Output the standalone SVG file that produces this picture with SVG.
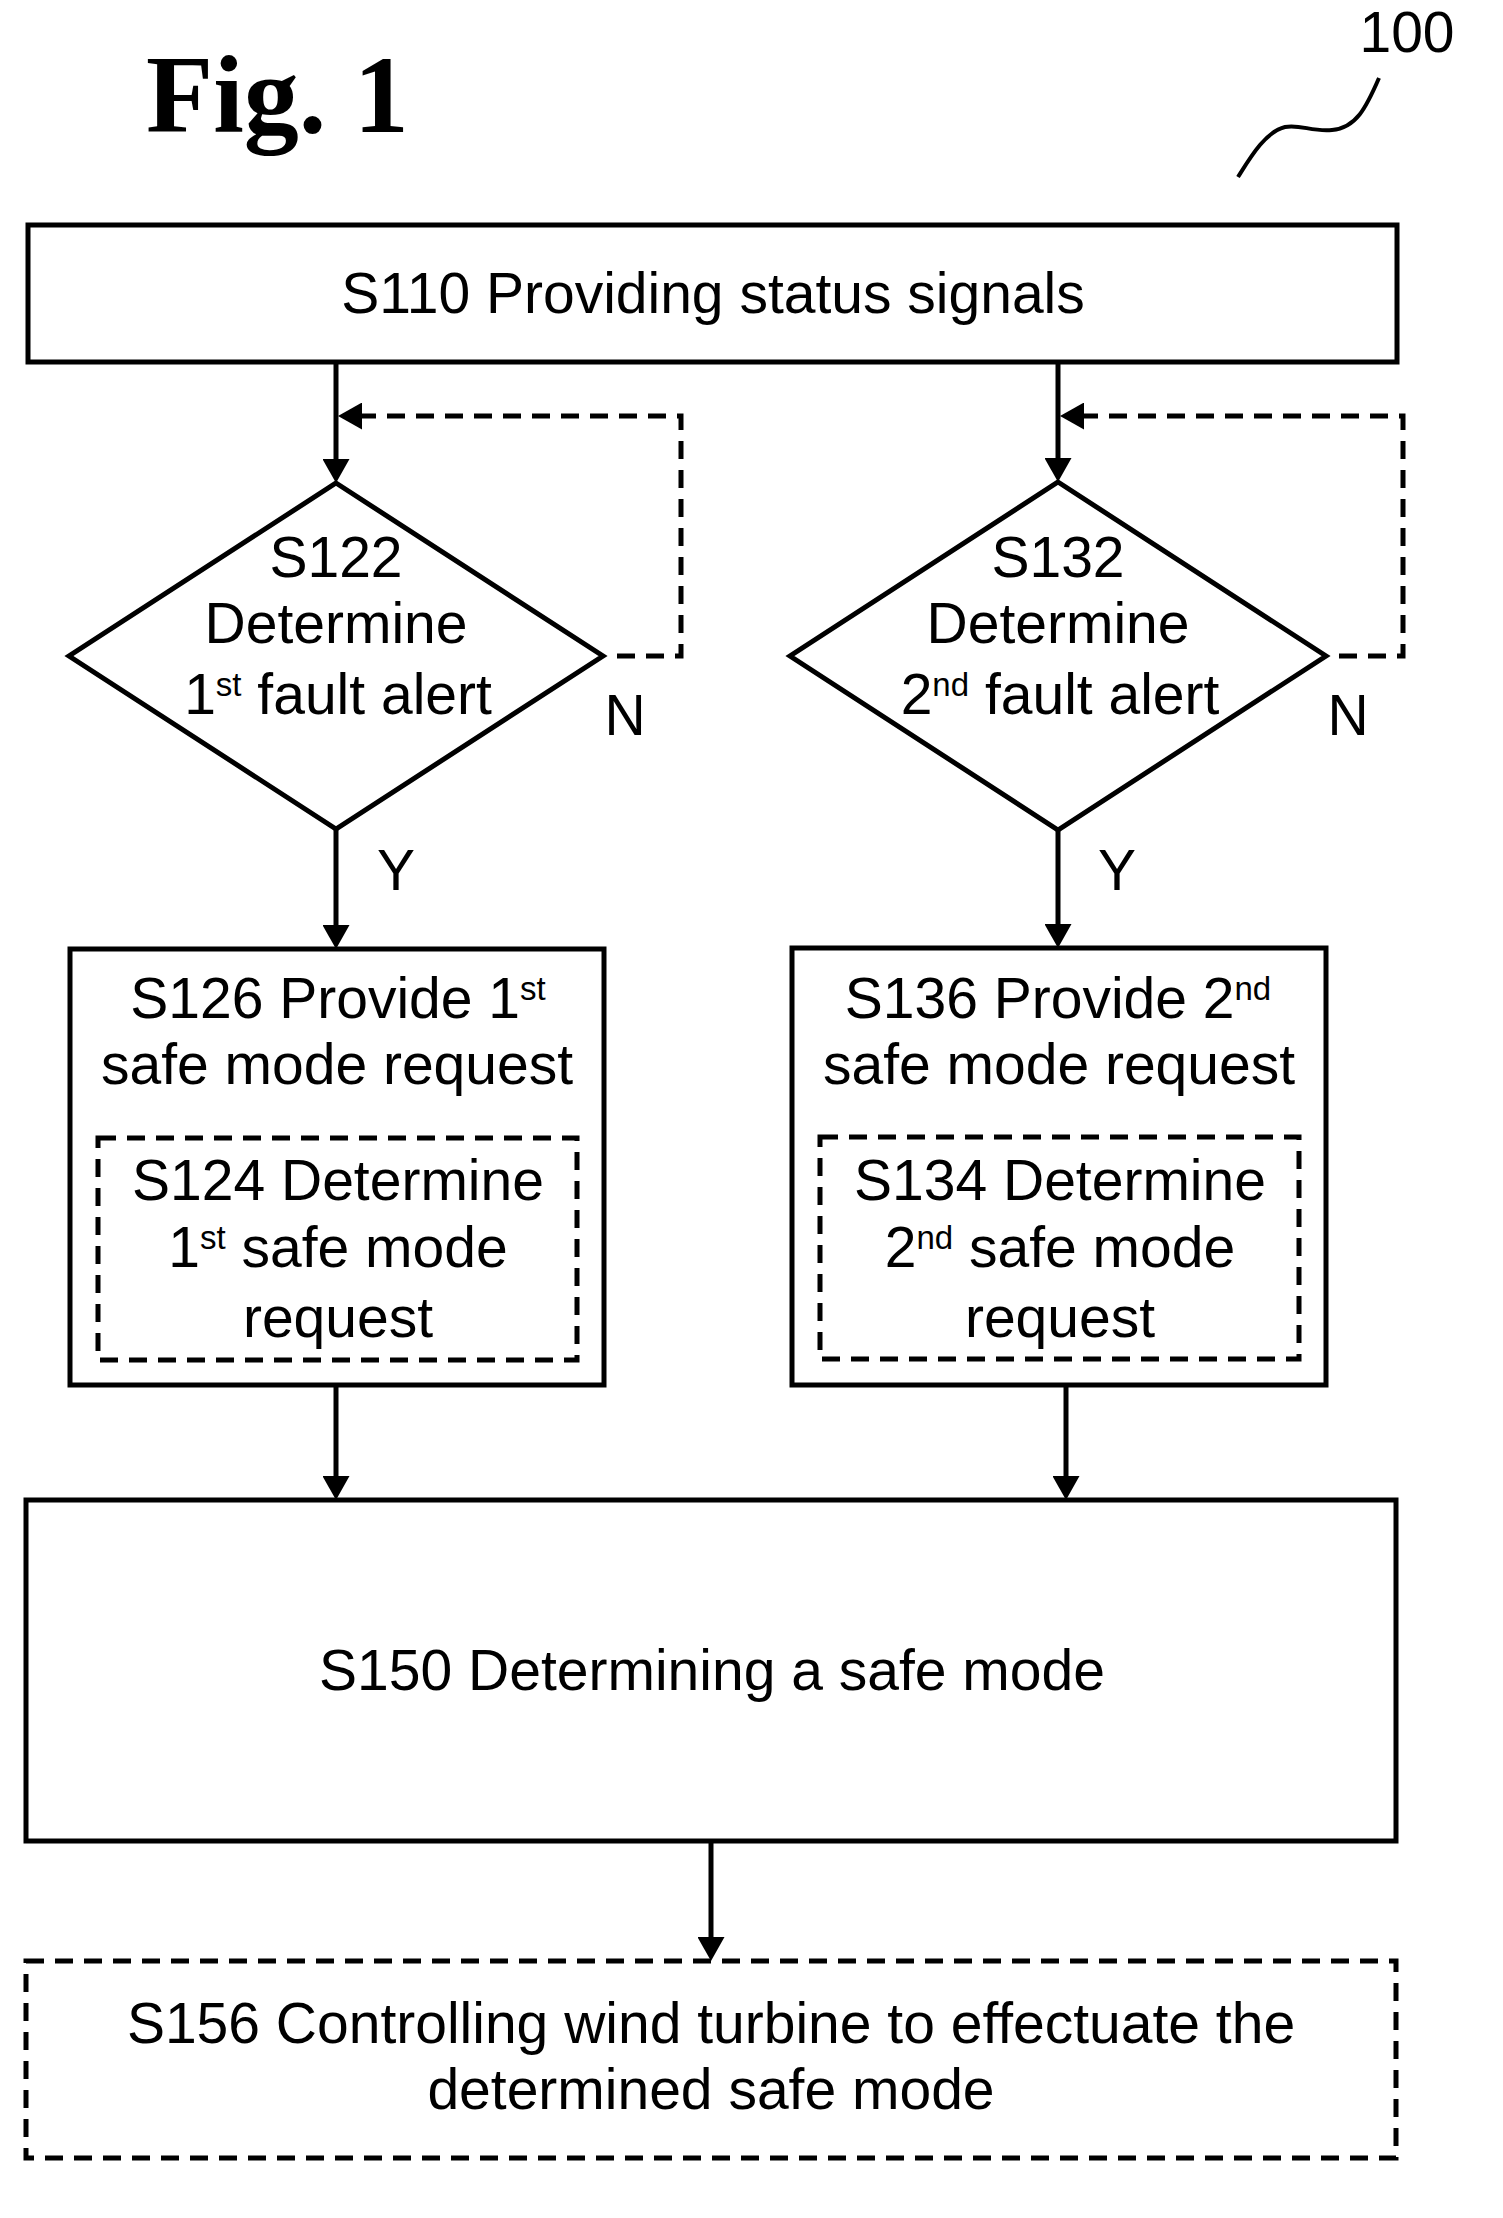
<svg xmlns="http://www.w3.org/2000/svg" width="1503" height="2218" viewBox="0 0 1503 2218">
<defs>
<style>
.t{font-family:"Liberation Sans",Arial,sans-serif;font-size:57px;fill:#000;text-anchor:middle}
.sup{font-size:33px}
.box{fill:#fff;stroke:#000;stroke-width:5}
.dbox{fill:none;stroke:#000;stroke-width:5;stroke-dasharray:18 11}
.c{fill:none;stroke:#000;stroke-width:5}
.d{fill:none;stroke:#000;stroke-width:5;stroke-dasharray:18 11}
</style>
<marker id="ah" markerUnits="userSpaceOnUse" viewBox="0 0 24 27" refX="14" refY="13.5" markerWidth="24" markerHeight="27" orient="auto">
<path d="M0,0 L24,13.5 L0,27 Z" fill="#000"/>
</marker>
</defs>
<rect width="1503" height="2218" fill="#fff"/>

<g id="title">
<text x="146" y="132" font-family="'Liberation Serif','Times New Roman',serif" font-weight="bold" font-size="110">Fig. 1</text>
</g>
<g id="ref100">
<text class="t" x="1407" y="52" font-size="56">100</text>
<path d="M1379,78 C1366,108 1356,128 1332,130 C1312,132 1300,124 1285,127 C1265,132 1250,158 1238,177" fill="none" stroke="#000" stroke-width="4"/>
</g>

<g id="connectors">
<path class="c" d="M336,362 V473" marker-end="url(#ah)"/>
<path class="c" d="M1058,362 V472" marker-end="url(#ah)"/>
<path class="d" d="M617,656 H681 V416 H348" marker-end="url(#ah)"/>
<path class="d" d="M1339,656 H1403 V416 H1070" marker-end="url(#ah)"/>
<path class="c" d="M336,829 V939" marker-end="url(#ah)"/>
<path class="c" d="M1058,830 V938" marker-end="url(#ah)"/>
<path class="c" d="M336,1385 V1490" marker-end="url(#ah)"/>
<path class="c" d="M1066,1385 V1490" marker-end="url(#ah)"/>
<path class="c" d="M711,1841 V1951" marker-end="url(#ah)"/>
<text class="t" x="625" y="735" font-size="60">N</text>
<text class="t" x="1348" y="735" font-size="60">N</text>
<text class="t" x="396" y="890" font-size="60">Y</text>
<text class="t" x="1117" y="890" font-size="60">Y</text>
</g>

<g id="S110">
<rect class="box" x="28" y="225" width="1369" height="137"/>
<text class="t" x="713" y="313">S110 Providing status signals</text>
</g>

<g id="S122">
<polygon class="box" points="336,483 603,656 336,829 69,656"/>
<text class="t" x="336" y="577">S122</text>
<text class="t" x="336" y="643">Determine</text>
<text class="t" x="338" y="714">1<tspan class="sup" dy="-18">st</tspan><tspan dy="18"> fault alert</tspan></text>
</g>

<g id="S132">
<polygon class="box" points="1058,482 1326,656 1058,830 790,656"/>
<text class="t" x="1058" y="577">S132</text>
<text class="t" x="1058" y="643">Determine</text>
<text class="t" x="1060" y="714">2<tspan class="sup" dy="-18">nd</tspan><tspan dy="18"> fault alert</tspan></text>
</g>

<g id="S126">
<rect class="box" x="70" y="949" width="534" height="436"/>
<text class="t" x="338" y="1018">S126 Provide 1<tspan class="sup" dy="-18">st</tspan></text>
<text class="t" x="337" y="1084">safe mode request</text>
<g id="S124">
<rect class="dbox" x="98" y="1138" width="479" height="222"/>
<text class="t" x="338" y="1200">S124 Determine</text>
<text class="t" x="338" y="1267">1<tspan class="sup" dy="-18">st</tspan><tspan dy="18"> safe mode</tspan></text>
<text class="t" x="338" y="1337">request</text>
</g>
</g>

<g id="S136">
<rect class="box" x="792" y="948" width="534" height="437"/>
<text class="t" x="1058" y="1018">S136 Provide 2<tspan class="sup" dy="-18">nd</tspan></text>
<text class="t" x="1059" y="1084">safe mode request</text>
<g id="S134">
<rect class="dbox" x="820" y="1137" width="479" height="222"/>
<text class="t" x="1060" y="1200">S134 Determine</text>
<text class="t" x="1060" y="1267">2<tspan class="sup" dy="-18">nd</tspan><tspan dy="18"> safe mode</tspan></text>
<text class="t" x="1060" y="1337">request</text>
</g>
</g>

<g id="S150">
<rect class="box" x="26" y="1500" width="1370" height="341"/>
<text class="t" x="712" y="1690">S150 Determining a safe mode</text>
</g>

<g id="S156">
<rect class="dbox" x="26" y="1961" width="1370" height="197"/>
<text class="t" x="711" y="2043">S156 Controlling wind turbine to effectuate the</text>
<text class="t" x="711" y="2109">determined safe mode</text>
</g>
</svg>
